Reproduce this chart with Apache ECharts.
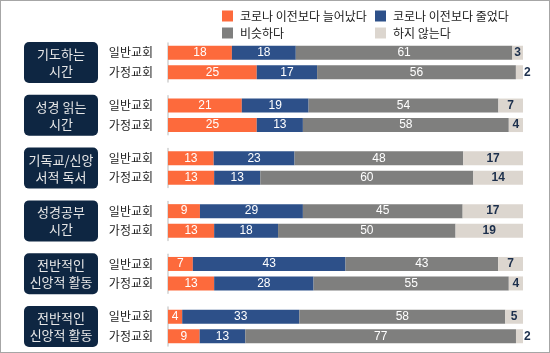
<!DOCTYPE html>
<html>
<head>
    <meta charset="utf-8">
    <title>코로나 이전 대비 신앙생활</title>
    <script src="https://cdn.jsdelivr.net/npm/echarts@6/dist/echarts.min.js"></script>
    <style>
        body { margin: 0; background: #fff; }
        #main { width: 548px; height: 351px; border: 1px solid #a6a6a6; }
    </style>
</head>
<body>
    <div id="main"></div>
    <script type="text/javascript">
        // 데이터
        var groups = ['기도하는\n시간', '성경 읽는\n시간', '기독교/신앙\n서적 독서', '성경공부\n시간', '전반적인\n신앙적 활동', '전반적인\n신앙적 활동'];
        var rows = ['일반교회', '가정교회'];
        var seriesNames = ['코로나 이전보다 늘어났다', '코로나 이전보다 줄었다', '비슷하다', '하지 않는다'];

        // 각 그룹: [일반교회, 가정교회]
        var increased = [[18, 25], [21, 25], [13, 13], [9, 13], [7, 13], [4, 9]];
        var decreased = [[18, 17], [19, 13], [23, 13], [29, 18], [43, 28], [33, 13]];
        var similar   = [[61, 56], [54, 58], [48, 60], [45, 50], [43, 55], [58, 77]];
        var notDoing  = [[3, 2], [7, 4], [17, 14], [17, 19], [7, 4], [5, 2]];

        var colors = ['#fd6a3c', '#2d5089', '#7f7f7e', '#dcd6cf'];
        var allData = [increased, decreased, similar, notDoing];

        var myChart = echarts.init(document.getElementById('main'));

        var gridTop0 = 42, gridStep = 52.8, gridH = 39;
        var grids = [], xAxes = [], yAxes = [], series = [], graphics = [];

        groups.forEach(function (g, gi) {
            var top = gridTop0 + gi * gridStep;
            grids.push({ left: 167, width: 355, top: top, height: gridH });
            xAxes.push({ type: 'value', gridIndex: gi, min: 0, max: 100, show: false });
            yAxes.push({
                type: 'category', gridIndex: gi, data: rows, inverse: true,
                axisLine: { show: true, lineStyle: { color: '#d0d0d0', width: 1.5 } },
                axisTick: { show: false },
                axisLabel: { margin: 15, fontSize: 12, color: '#222', fontFamily: 'Noto Sans CJK KR' }
            });
            // 합계 (반올림 오차 보정용)
            var totals = rows.map(function (r, ri) {
                return allData.reduce(function (s, arr) { return s + arr[gi][ri]; }, 0);
            });
            allData.forEach(function (arr, si) {
                series.push({
                    name: seriesNames[si],
                    type: 'bar',
                    xAxisIndex: gi,
                    yAxisIndex: gi,
                    stack: 'g' + gi,
                    barWidth: 14,
                    itemStyle: { color: colors[si] },
                    data: arr[gi].map(function (v, ri) {
                        var item = { value: v * 100 / totals[ri], raw: v };
                        if (si === 3 && v < 3) {
                            item.label = { position: 'right', distance: 1 };
                        }
                        return item;
                    }),
                    label: {
                        show: true,
                        position: 'inside',
                        fontSize: 12,
                        fontFamily: 'Liberation Sans',
                        color: si === 3 ? '#1c2f4c' : '#fff',
                        fontWeight: si === 3 ? 'bold' : 'normal',
                        formatter: function (p) { return p.data.raw; }
                    }
                });
            });
            // 왼쪽 제목 상자
            graphics.push({
                type: 'rect',
                shape: { x: 23, y: top + gridH / 2 - 20.5, width: 74, height: 41, r: 5 },
                style: { fill: '#0e2642' }
            });
            graphics.push({
                type: 'text',
                x: 60, y: top + gridH / 2,
                style: {
                    text: g, fill: '#e8e8e8', fontSize: 13, lineHeight: 17,
                    fontFamily: 'Noto Sans CJK KR',
                    align: 'center', verticalAlign: 'middle'
                }
            });
        });

        var legendPos = [[221, 9], [374, 9], [221, 26], [374, 26]];
        var legends = seriesNames.map(function (n, i) {
            return {
                data: [n], left: legendPos[i][0], top: legendPos[i][1],
                itemWidth: 11, itemHeight: 11, itemGap: 0, icon: 'rect',
                padding: 0,
                textStyle: { fontSize: 12, color: '#222', fontFamily: 'Noto Sans CJK KR', padding: [0, 0, 0, 2] }
            };
        });

        var option = {
            animation: false,
            legend: legends,
            grid: grids,
            xAxis: xAxes,
            yAxis: yAxes,
            series: series,
            graphic: graphics
        };

        myChart.setOption(option);
        window.onresize = myChart.resize;
    </script>
</body>
</html>
